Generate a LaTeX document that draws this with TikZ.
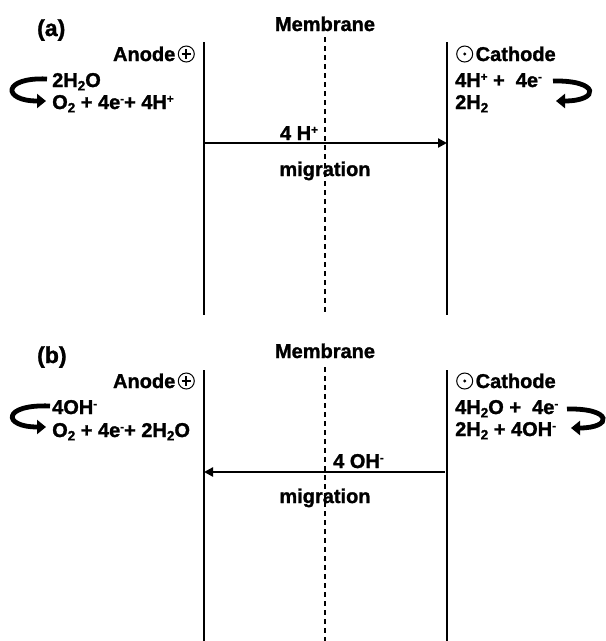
\documentclass[tikz,border=0pt]{standalone}
\usepackage{fontspec}
\setmainfont{Liberation Sans}[BoldFeatures={FakeBold=1.3}]
\usetikzlibrary{arrows.meta}

% chemical sub- and superscripts in the running text font
\newcommand\dn[1]{\raisebox{-0.32ex}{\fontsize{13.5}{14}\selectfont #1}}
\newcommand\up[1]{\raisebox{0.6ex}{\fontsize{11.5}{12}\selectfont #1}}
% electrode polarity marks
\newcommand\plussign{\hspace{2.5pt}\tikz[baseline=-7pt]{%
  \draw[line width=1pt] (0pt,0pt) circle (8pt);
  \draw[line width=2.2pt] (-4.6pt,0pt) -- (4.6pt,0pt) (0pt,-4.6pt) -- (0pt,4.6pt);}}
\newcommand\dotsign{\tikz[baseline=-7pt]{%
  \draw[line width=1pt] (0pt,0pt) circle (8pt);
  \fill (0pt,0pt) circle (1.6pt);}\hspace{2.5pt}}

\tikzset{
  lbl/.style={inner sep=0pt, font=\fontsize{20}{22}\selectfont\bfseries},
  tag/.style={inner sep=0pt, font=\fontsize{23}{25}\selectfont\bfseries},
  electrode/.style={line width=2.6pt},
  membrane/.style={line width=1.8pt, dash pattern=on 4.5pt off 4.5pt},
  flow/.style={line width=2.4pt, -{Triangle[length=9pt,width=9pt]}},
  turn/.style={line width=4.8pt, -{Triangle[length=9pt,width=14pt]}},
}

\begin{document}
\begin{tikzpicture}[x=1pt,y=-1pt]
\useasboundingbox (0,0) rectangle (606,641);

% ---------------- panel (a): acidic electrolysis ----------------
\node[tag, anchor=base west] (ta) at (37,36) {(a)};
\node[lbl, anchor=base] (mema) at (325,31) {Membrane};

\coordinate (aLtop) at (204,42);  \coordinate (aLbot) at (204,315);
\coordinate (aRtop) at (447,42);  \coordinate (aRbot) at (447,315);
\coordinate (aMtop) at (325,37);  \coordinate (aMbot) at (325,316);
\draw[electrode] (aLtop) -- (aLbot);
\draw[electrode] (aRtop) -- (aRbot);
\draw[membrane] (aMtop) -- (aMbot);

\node[lbl, anchor=base east] (anodea) at (195,61) {Anode\plussign};
\node[lbl, anchor=base west] (a1) at (52,87) {2H\dn{2}O};
\node[lbl, anchor=base west] (a2) at (52,109) {O\dn{2} + 4e\up{-}+ 4H\up{+}};

\node[lbl, anchor=base west] (cathodea) at (456,61) {\dotsign Cathode};
\node[lbl, anchor=base west] (c1) at (455,87) {4H\up{+} + \ 4e\up{-}};
\node[lbl, anchor=base west] (c2) at (455,109) {2H\dn{2}};

\coordinate (aFs) at (204,143); \coordinate (aFe) at (447,143);
\draw[flow] (aFs) -- (aFe);
\node[lbl, anchor=base] (ionA) at (299,140) {4 H\up{+}};
\node[lbl, anchor=base] (migA) at (325,176) {migration};

\coordinate (la1) at (47,79);  \coordinate (la2) at (46,101);
\draw[turn] (la1) .. controls (2,77) and (2,101) .. (la2);
\coordinate (ra1) at (553,81); \coordinate (ra2) at (556,101);
\draw[turn] (ra1) .. controls (600,80) and (600,101) .. (ra2);

% ---------------- panel (b): alkaline electrolysis ----------------
\node[tag, anchor=base west] (tb) at (37,363) {(b)};
\node[lbl, anchor=base] (memb) at (325,358) {Membrane};

\coordinate (bLtop) at (204,370); \coordinate (bLbot) at (204,641);
\coordinate (bRtop) at (447,370); \coordinate (bRbot) at (447,641);
\coordinate (bMtop) at (325,367); \coordinate (bMbot) at (325,641);
\draw[electrode] (bLtop) -- (bLbot);
\draw[electrode] (bRtop) -- (bRbot);
\draw[membrane] (bMtop) -- (bMbot);

\node[lbl, anchor=base east] (anodeb) at (195,388) {Anode\plussign};
\node[lbl, anchor=base west] (b1) at (52,414) {4OH\up{-}};
\node[lbl, anchor=base west] (b2) at (52,437) {O\dn{2} + 4e\up{-}+ 2H\dn{2}O};

\node[lbl, anchor=base west] (cathodeb) at (456,388) {\dotsign Cathode};
\node[lbl, anchor=base west] (d1) at (455,414) {4H\dn{2}O + \ 4e\up{-}};
\node[lbl, anchor=base west] (d2) at (455,436) {2H\dn{2} + 4OH\up{-}};

\coordinate (bFs) at (445,472); \coordinate (bFe) at (204,472);
\draw[flow] (bFs) -- (bFe);
\node[lbl, anchor=base west] (ionB) at (333,468) {4 OH\up{-}};
\node[lbl, anchor=base] (migB) at (325,503) {migration};

\coordinate (lb1) at (50,406);  \coordinate (lb2) at (46,427);
\draw[turn] (lb1) .. controls (2,404) and (2,427) .. (lb2);
\coordinate (rb1) at (567,409); \coordinate (rb2) at (571,428);
\draw[turn] (rb1) .. controls (613,408) and (613,428) .. (rb2);
\end{tikzpicture}
\end{document}
